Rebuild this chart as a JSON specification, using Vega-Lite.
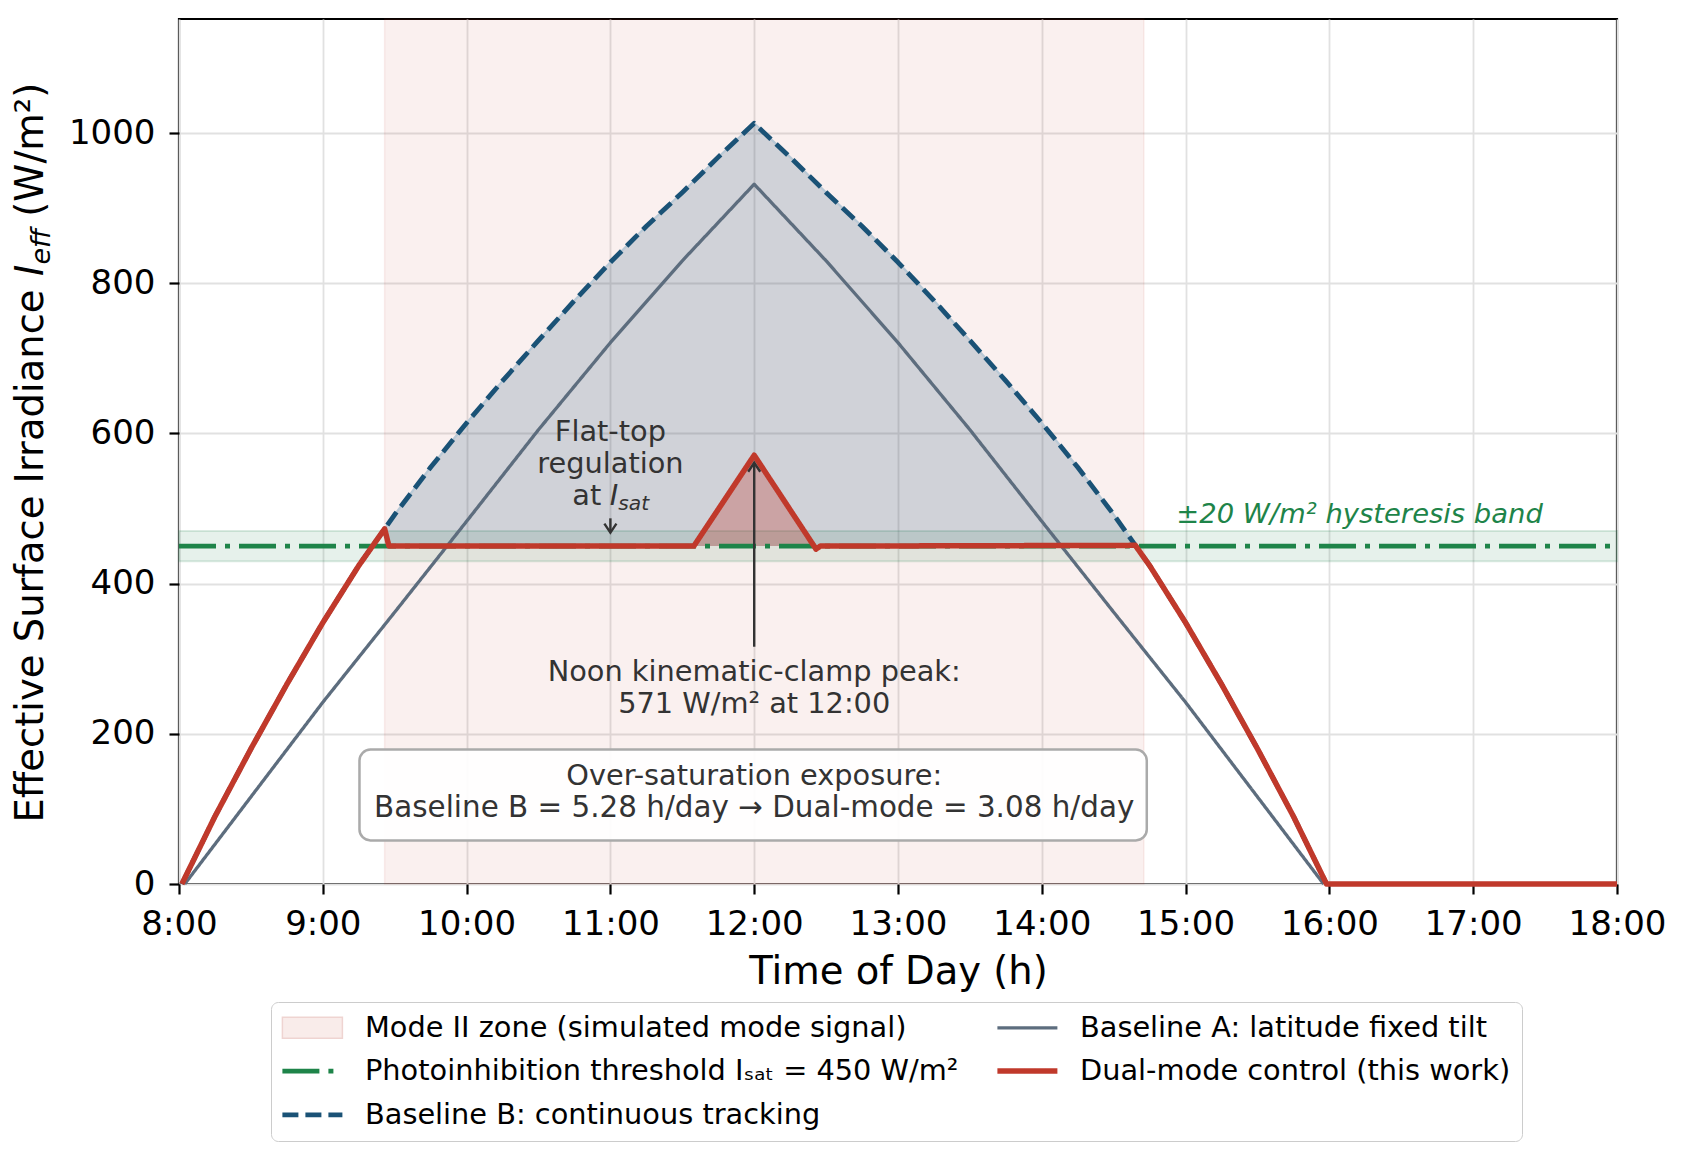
{
  "$schema": "https://vega.github.io/schema/vega-lite/v6.json",
  "width": 1438,
  "height": 865,
  "autosize": {"type": "none"},
  "padding": {"left": 179, "top": 19, "right": 66, "bottom": 269},
  "background": "#ffffff",
  "config": {
    "font": "DejaVu Sans",
    "view": {"stroke": "#000000", "strokeWidth": 2.2},
    "axis": {
      "grid": true,
      "gridColor": "#e1e1e1",
      "gridWidth": 1.8,
      "domain": false,
      "ticks": true,
      "tickColor": "#000000",
      "tickWidth": 2.2,
      "tickSize": 10,
      "labelFontSize": 34,
      "labelColor": "#000000",
      "labelFont": "DejaVu Sans",
      "labelFlush": false,
      "labelOverlap": false,
      "titleFont": "DejaVu Sans",
      "titleFontSize": 38.5,
      "titleFontWeight": "normal",
      "titleColor": "#000000"
    }
  },
  "datasets": {
    "zone": [{"start": 9.43, "end": 14.71}],
    "band": [{"lo": 430, "hi": 470}],
    "curves": [
      {"series": "Photoinhibition threshold Iₛₐₜ = 450 W/m²", "t": 8, "v": 450},
      {"series": "Photoinhibition threshold Iₛₐₜ = 450 W/m²", "t": 18, "v": 450},
      {"series": "Baseline B: continuous tracking", "t": 8.02, "v": 0},
      {"series": "Baseline B: continuous tracking", "t": 8.25, "v": 90},
      {"series": "Baseline B: continuous tracking", "t": 8.5, "v": 180},
      {"series": "Baseline B: continuous tracking", "t": 8.75, "v": 266},
      {"series": "Baseline B: continuous tracking", "t": 9, "v": 348},
      {"series": "Baseline B: continuous tracking", "t": 9.25, "v": 424},
      {"series": "Baseline B: continuous tracking", "t": 9.5, "v": 492},
      {"series": "Baseline B: continuous tracking", "t": 9.75, "v": 555},
      {"series": "Baseline B: continuous tracking", "t": 10, "v": 614},
      {"series": "Baseline B: continuous tracking", "t": 10.25, "v": 670},
      {"series": "Baseline B: continuous tracking", "t": 10.5, "v": 724},
      {"series": "Baseline B: continuous tracking", "t": 10.75, "v": 777},
      {"series": "Baseline B: continuous tracking", "t": 11, "v": 828},
      {"series": "Baseline B: continuous tracking", "t": 11.25, "v": 876},
      {"series": "Baseline B: continuous tracking", "t": 11.5, "v": 921},
      {"series": "Baseline B: continuous tracking", "t": 11.75, "v": 968},
      {"series": "Baseline B: continuous tracking", "t": 12, "v": 1013},
      {"series": "Baseline B: continuous tracking", "t": 12.25, "v": 968},
      {"series": "Baseline B: continuous tracking", "t": 12.5, "v": 921},
      {"series": "Baseline B: continuous tracking", "t": 12.75, "v": 876},
      {"series": "Baseline B: continuous tracking", "t": 13, "v": 828},
      {"series": "Baseline B: continuous tracking", "t": 13.25, "v": 777},
      {"series": "Baseline B: continuous tracking", "t": 13.5, "v": 724},
      {"series": "Baseline B: continuous tracking", "t": 13.75, "v": 670},
      {"series": "Baseline B: continuous tracking", "t": 14, "v": 614},
      {"series": "Baseline B: continuous tracking", "t": 14.25, "v": 555},
      {"series": "Baseline B: continuous tracking", "t": 14.5, "v": 492},
      {"series": "Baseline B: continuous tracking", "t": 14.75, "v": 424},
      {"series": "Baseline B: continuous tracking", "t": 15, "v": 348},
      {"series": "Baseline B: continuous tracking", "t": 15.25, "v": 266},
      {"series": "Baseline B: continuous tracking", "t": 15.5, "v": 180},
      {"series": "Baseline B: continuous tracking", "t": 15.75, "v": 90},
      {"series": "Baseline B: continuous tracking", "t": 15.98, "v": 0},
      {"series": "Baseline A: latitude fixed tilt", "t": 8.04, "v": 0},
      {"series": "Baseline A: latitude fixed tilt", "t": 8.5, "v": 116},
      {"series": "Baseline A: latitude fixed tilt", "t": 9, "v": 242},
      {"series": "Baseline A: latitude fixed tilt", "t": 9.5, "v": 362},
      {"series": "Baseline A: latitude fixed tilt", "t": 10, "v": 483},
      {"series": "Baseline A: latitude fixed tilt", "t": 10.5, "v": 605},
      {"series": "Baseline A: latitude fixed tilt", "t": 11, "v": 721},
      {"series": "Baseline A: latitude fixed tilt", "t": 11.5, "v": 830},
      {"series": "Baseline A: latitude fixed tilt", "t": 12, "v": 932},
      {"series": "Baseline A: latitude fixed tilt", "t": 12.5, "v": 830},
      {"series": "Baseline A: latitude fixed tilt", "t": 13, "v": 721},
      {"series": "Baseline A: latitude fixed tilt", "t": 13.5, "v": 605},
      {"series": "Baseline A: latitude fixed tilt", "t": 14, "v": 483},
      {"series": "Baseline A: latitude fixed tilt", "t": 14.5, "v": 362},
      {"series": "Baseline A: latitude fixed tilt", "t": 15, "v": 242},
      {"series": "Baseline A: latitude fixed tilt", "t": 15.5, "v": 116},
      {"series": "Baseline A: latitude fixed tilt", "t": 15.96, "v": 0},
      {"series": "Dual-mode control (this work)", "t": 8.02, "v": 0},
      {"series": "Dual-mode control (this work)", "t": 8.25, "v": 90},
      {"series": "Dual-mode control (this work)", "t": 8.5, "v": 180},
      {"series": "Dual-mode control (this work)", "t": 8.75, "v": 266},
      {"series": "Dual-mode control (this work)", "t": 9, "v": 348},
      {"series": "Dual-mode control (this work)", "t": 9.25, "v": 424},
      {"series": "Dual-mode control (this work)", "t": 9.43, "v": 473},
      {"series": "Dual-mode control (this work)", "t": 9.46, "v": 450},
      {"series": "Dual-mode control (this work)", "t": 11.58, "v": 450},
      {"series": "Dual-mode control (this work)", "t": 12, "v": 571},
      {"series": "Dual-mode control (this work)", "t": 12.43, "v": 446},
      {"series": "Dual-mode control (this work)", "t": 12.46, "v": 450},
      {"series": "Dual-mode control (this work)", "t": 14.65, "v": 451},
      {"series": "Dual-mode control (this work)", "t": 14.75, "v": 424},
      {"series": "Dual-mode control (this work)", "t": 15, "v": 348},
      {"series": "Dual-mode control (this work)", "t": 15.25, "v": 266},
      {"series": "Dual-mode control (this work)", "t": 15.5, "v": 180},
      {"series": "Dual-mode control (this work)", "t": 15.75, "v": 90},
      {"series": "Dual-mode control (this work)", "t": 15.98, "v": 0},
      {"series": "Dual-mode control (this work)", "t": 18, "v": 0}
    ],
    "fillB": [
      {"t": 9.43, "v": 473}, {"t": 9.5, "v": 492}, {"t": 9.75, "v": 555}, {"t": 10, "v": 614},
      {"t": 10.25, "v": 670}, {"t": 10.5, "v": 724}, {"t": 10.75, "v": 777}, {"t": 11, "v": 828},
      {"t": 11.25, "v": 876}, {"t": 11.5, "v": 921}, {"t": 11.75, "v": 968}, {"t": 12, "v": 1013},
      {"t": 12.25, "v": 968}, {"t": 12.5, "v": 921}, {"t": 12.75, "v": 876}, {"t": 13, "v": 828},
      {"t": 13.25, "v": 777}, {"t": 13.5, "v": 724}, {"t": 13.75, "v": 670}, {"t": 14, "v": 614},
      {"t": 14.25, "v": 555}, {"t": 14.5, "v": 492}, {"t": 14.65, "v": 451}
    ],
    "fillRed": [{"t": 11.58, "v": 450}, {"t": 12, "v": 571}, {"t": 12.43, "v": 450}],
    "one": [{}]
  },
  "layer": [
    {
      "data": {"name": "zone"},
      "mark": {"type": "rect", "fill": "#c0392b", "fillOpacity": 0.075, "stroke": "#c0392b", "strokeOpacity": 0.08, "strokeWidth": 1.5},
      "encoding": {
        "x": {"field": "start", "type": "quantitative",
          "scale": {"domain": [8, 18], "nice": false, "zero": false},
          "axis": {"title": "Time of Day (h)", "values": [8, 9, 10, 11, 12, 13, 14, 15, 16, 17, 18],
            "labelExpr": "datum.value + ':00'", "labelPadding": 13, "titleY": 99, "titleBaseline": "alphabetic"}},
        "x2": {"field": "end"}
      }
    },
    {
      "data": {"name": "band"},
      "mark": {"type": "rect", "fill": "#1e8449", "fillOpacity": 0.11, "stroke": "#1e8449", "strokeOpacity": 0.16, "strokeWidth": 2},
      "encoding": {
        "y": {"field": "lo", "type": "quantitative",
          "scale": {"domain": [0, 1152], "nice": false, "zero": true},
          "axis": {"title": null, "values": [0, 200, 400, 600, 800, 1000], "format": "d", "labelPadding": 14}},
        "y2": {"field": "hi"}
      }
    },
    {
      "data": {"name": "fillB"},
      "mark": {"type": "area", "color": "#1a5276", "opacity": 0.19},
      "encoding": {
        "x": {"field": "t", "type": "quantitative"},
        "y": {"field": "v", "type": "quantitative"},
        "y2": {"datum": 450}
      }
    },
    {
      "data": {"name": "fillRed"},
      "mark": {"type": "area", "color": "#c0392b", "opacity": 0.3},
      "encoding": {
        "x": {"field": "t", "type": "quantitative"},
        "y": {"field": "v", "type": "quantitative"},
        "y2": {"datum": 450}
      }
    },
    {
      "data": {"name": "fillB"},
      "mark": {"type": "line", "color": "#b9c9d6", "strokeWidth": 2.2},
      "encoding": {
        "x": {"field": "t", "type": "quantitative"},
        "y": {"field": "v", "type": "quantitative"}
      }
    },
    {
      "data": {"name": "curves"},
      "mark": {"type": "line", "strokeCap": "butt", "strokeJoin": "round"},
      "encoding": {
        "x": {"field": "t", "type": "quantitative"},
        "y": {"field": "v", "type": "quantitative"},
        "color": {"field": "series", "type": "nominal",
          "scale": {"domain": ["Mode II zone (simulated mode signal)", "Photoinhibition threshold Iₛₐₜ = 450 W/m²", "Baseline B: continuous tracking", "Baseline A: latitude fixed tilt", "Dual-mode control (this work)"],
            "range": ["#efd4d1", "#1e8449", "#1a5276", "#5d6d7e", "#c0392b"]},
          "legend": {"title": null, "orient": "none", "legendX": 92, "legendY": 983, "columns": 2, "direction": "vertical",
            "symbolType": "M-8.57,0H8.57", "symbolSize": 49, "symbolOffset": 16,
            "labelFontSize": 28.8, "labelColor": "#000000", "labelFont": "DejaVu Sans", "labelOffset": 38.2, "labelLimit": 1000,
            "columnPadding": 27, "rowPadding": 13.7, "padding": 11, "strokeColor": "#cccccc", "fillColor": "#ffffff", "cornerRadius": 7,
            "encode": {"symbols": {"update": {
              "shape": {"signal": "datum.value === 'Mode II zone (simulated mode signal)' ? 'M-8.57,-3H8.57V3H-8.57Z' : 'M-8.57,0H8.57'"},
              "fill": {"signal": "datum.value === 'Mode II zone (simulated mode signal)' ? '#f9ecea' : 'transparent'"}}}}}},
        "strokeDash": {"field": "series", "type": "nominal",
          "scale": {"domain": ["Mode II zone (simulated mode signal)", "Photoinhibition threshold Iₛₐₜ = 450 W/m²", "Baseline B: continuous tracking", "Baseline A: latitude fixed tilt", "Dual-mode control (this work)"],
            "range": [[1, 0], [37, 9, 5, 9], [16, 7], [1, 0], [1, 0]]},
          "legend": {"title": null, "orient": "none", "legendX": 92, "legendY": 983, "columns": 2, "direction": "vertical",
            "symbolType": "M-8.57,0H8.57", "symbolSize": 49, "symbolOffset": 16,
            "labelFontSize": 28.8, "labelColor": "#000000", "labelFont": "DejaVu Sans", "labelOffset": 38.2, "labelLimit": 1000,
            "columnPadding": 27, "rowPadding": 13.7, "padding": 11, "strokeColor": "#cccccc", "fillColor": "#ffffff", "cornerRadius": 7}},
        "strokeWidth": {"field": "series", "type": "nominal",
          "scale": {"type": "ordinal", "domain": ["Mode II zone (simulated mode signal)", "Photoinhibition threshold Iₛₐₜ = 450 W/m²", "Baseline B: continuous tracking", "Baseline A: latitude fixed tilt", "Dual-mode control (this work)"],
            "range": [1.5, 4.6, 4.8, 3.3, 5.5]},
          "legend": {"title": null, "orient": "none", "legendX": 92, "legendY": 983, "columns": 2, "direction": "vertical",
            "symbolType": "M-8.57,0H8.57", "symbolSize": 49, "symbolOffset": 16,
            "labelFontSize": 28.8, "labelColor": "#000000", "labelFont": "DejaVu Sans", "labelOffset": 38.2, "labelLimit": 1000,
            "columnPadding": 27, "rowPadding": 13.7, "padding": 11, "strokeColor": "#cccccc", "fillColor": "#ffffff", "cornerRadius": 7}}
      }
    },
    {
      "data": {"name": "one"},
      "mark": {"type": "rule", "color": "#333333", "strokeWidth": 2.4},
      "encoding": {
        "x": {"datum": 11.0, "type": "quantitative"},
        "y": {"datum": 487, "type": "quantitative"},
        "y2": {"datum": 470}
      }
    },
    {
      "data": {"name": "one"},
      "mark": {"type": "point", "shape": "M-0.67,-1L0,0L0.67,-1", "filled": false, "stroke": "#333333", "strokeWidth": 2.4, "size": 324, "opacity": 1},
      "encoding": {
        "x": {"datum": 11.0, "type": "quantitative"},
        "y": {"datum": 468, "type": "quantitative"}
      }
    },
    {
      "data": {"name": "one"},
      "mark": {"type": "rule", "color": "#333333", "strokeWidth": 2.4},
      "encoding": {
        "x": {"datum": 12.0, "type": "quantitative"},
        "y": {"datum": 316, "type": "quantitative"},
        "y2": {"datum": 559}
      }
    },
    {
      "data": {"name": "one"},
      "mark": {"type": "point", "shape": "M-0.67,1L0,0L0.67,1", "filled": false, "stroke": "#333333", "strokeWidth": 2.4, "size": 324, "opacity": 1},
      "encoding": {
        "x": {"datum": 12.0, "type": "quantitative"},
        "y": {"datum": 561, "type": "quantitative"}
      }
    },
    {
      "data": {"name": "one"},
      "mark": {"type": "rect", "fill": "#ffffff", "fillOpacity": 0.92, "stroke": "#aaaaaa", "strokeWidth": 2.5, "cornerRadius": 11},
      "encoding": {
        "x": {"datum": 9.255, "type": "quantitative"},
        "x2": {"datum": 14.73},
        "y": {"datum": 179, "type": "quantitative"},
        "y2": {"datum": 58}
      }
    },
    {
      "data": {"name": "one"},
      "mark": {"type": "text", "text": "Flat-top", "fontSize": 28.8, "color": "#333333", "align": "center", "baseline": "alphabetic"},
      "encoding": {"x": {"datum": 11.0, "type": "quantitative"}, "y": {"datum": 590, "type": "quantitative"}}
    },
    {
      "data": {"name": "one"},
      "mark": {"type": "text", "text": "regulation", "fontSize": 28.8, "color": "#333333", "align": "center", "baseline": "alphabetic"},
      "encoding": {"x": {"datum": 11.0, "type": "quantitative"}, "y": {"datum": 548, "type": "quantitative"}}
    },
    {
      "data": {"name": "one"},
      "mark": {"type": "text", "text": "at", "fontSize": 28.8, "color": "#333333", "align": "left", "baseline": "alphabetic"},
      "encoding": {"x": {"datum": 10.735, "type": "quantitative"}, "y": {"datum": 505, "type": "quantitative"}}
    },
    {
      "data": {"name": "one"},
      "mark": {"type": "text", "text": "I", "fontSize": 28.8, "fontStyle": "italic", "color": "#333333", "align": "left", "baseline": "alphabetic"},
      "encoding": {"x": {"datum": 10.9958, "type": "quantitative"}, "y": {"datum": 505, "type": "quantitative"}}
    },
    {
      "data": {"name": "one"},
      "mark": {"type": "text", "text": "sat", "fontSize": 20.2, "fontStyle": "italic", "color": "#333333", "align": "left", "baseline": "alphabetic"},
      "encoding": {"x": {"datum": 11.055, "type": "quantitative"}, "y": {"datum": 498, "type": "quantitative"}}
    },
    {
      "data": {"name": "one"},
      "mark": {"type": "text", "text": "Noon kinematic-clamp peak:", "fontSize": 28.8, "color": "#333333", "align": "center", "baseline": "alphabetic"},
      "encoding": {"x": {"datum": 12.0, "type": "quantitative"}, "y": {"datum": 270, "type": "quantitative"}}
    },
    {
      "data": {"name": "one"},
      "mark": {"type": "text", "text": "571 W/m² at 12:00", "fontSize": 28.8, "color": "#333333", "align": "center", "baseline": "alphabetic"},
      "encoding": {"x": {"datum": 12.0, "type": "quantitative"}, "y": {"datum": 227.5, "type": "quantitative"}}
    },
    {
      "data": {"name": "one"},
      "mark": {"type": "text", "text": "Over-saturation exposure:", "fontSize": 28.8, "color": "#333333", "align": "center", "baseline": "alphabetic"},
      "encoding": {"x": {"datum": 12.0, "type": "quantitative"}, "y": {"datum": 132, "type": "quantitative"}}
    },
    {
      "data": {"name": "one"},
      "mark": {"type": "text", "text": "Baseline B = 5.28 h/day → Dual-mode = 3.08 h/day", "fontSize": 29.4, "color": "#333333", "align": "center", "baseline": "alphabetic"},
      "encoding": {"x": {"datum": 12.0, "type": "quantitative"}, "y": {"datum": 88.6, "type": "quantitative"}}
    },
    {
      "data": {"name": "one"},
      "mark": {"type": "text", "text": "±20 W/m² hysteresis band", "fontSize": 27.4, "fontStyle": "italic", "color": "#1e8449", "align": "left", "baseline": "alphabetic"},
      "encoding": {"x": {"datum": 14.935, "type": "quantitative"}, "y": {"datum": 481, "type": "quantitative"}}
    },
    {
      "data": {"name": "one"},
      "mark": {"type": "text", "text": "Effective Surface Irradiance", "fontSize": 38.5, "color": "#000000", "angle": 270, "align": "left", "baseline": "middle"},
      "encoding": {"x": {"datum": 6.974, "type": "quantitative"}, "y": {"datum": 81.9, "type": "quantitative"}}
    },
    {
      "data": {"name": "one"},
      "mark": {"type": "text", "text": "I", "fontSize": 38.5, "fontStyle": "italic", "color": "#000000", "angle": 270, "align": "left", "baseline": "middle"},
      "encoding": {"x": {"datum": 6.974, "type": "quantitative"}, "y": {"datum": 809.8, "type": "quantitative"}}
    },
    {
      "data": {"name": "one"},
      "mark": {"type": "text", "text": "eff", "fontSize": 27, "fontStyle": "italic", "color": "#000000", "angle": 270, "align": "left", "baseline": "middle"},
      "encoding": {"x": {"datum": 7.0466, "type": "quantitative"}, "y": {"datum": 825.0, "type": "quantitative"}}
    },
    {
      "data": {"name": "one"},
      "mark": {"type": "text", "text": "(W/m²)", "fontSize": 38.5, "color": "#000000", "angle": 270, "align": "left", "baseline": "middle"},
      "encoding": {"x": {"datum": 6.974, "type": "quantitative"}, "y": {"datum": 888.7, "type": "quantitative"}}
    }
  ]
}
